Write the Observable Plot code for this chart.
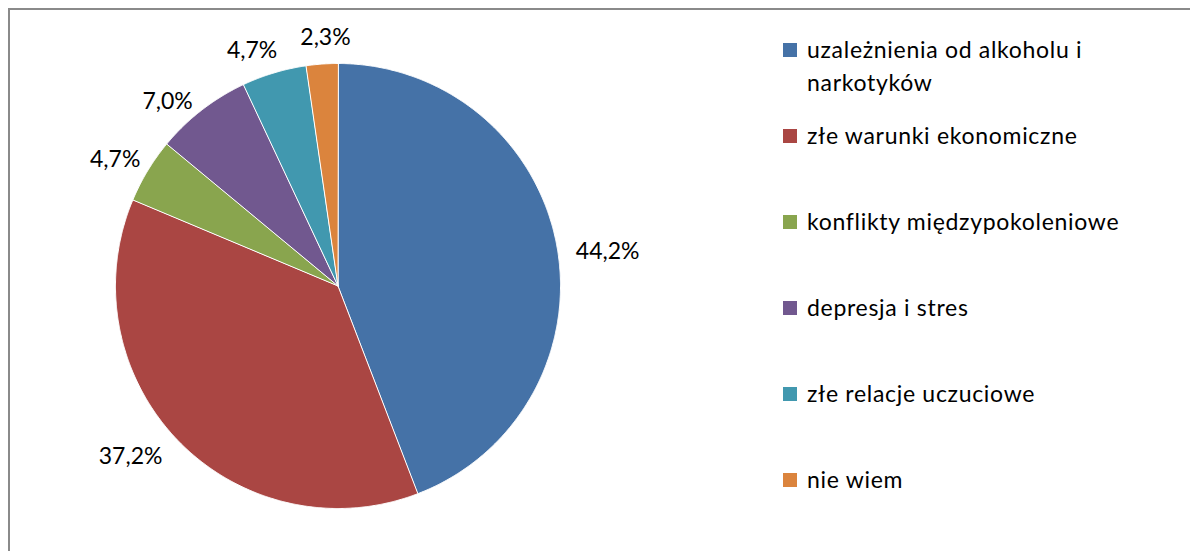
<!DOCTYPE html>
<html><head><meta charset="utf-8">
<script src="https://cdn.jsdelivr.net/npm/d3@7"></script>
<script src="https://cdn.jsdelivr.net/npm/@observablehq/plot@0.6"></script>
<style>
html,body{margin:0;padding:0;background:#fff;overflow:hidden;}
#wrap{position:relative;width:1190px;height:551px;font-family:Lato,"Noto Sans",sans-serif;color:#000;}
#frame{position:absolute;left:8px;top:8px;width:1200px;height:560px;border:2px solid #8a8a8a;box-sizing:border-box;}
#chart{position:absolute;left:0;top:0;}
#chart svg text{font-family:Lato,"Noto Sans",sans-serif;}
.sw{position:absolute;left:783px;width:14px;height:14px;}
.lt{position:absolute;left:807px;width:360px;font-size:23px;line-height:33px;letter-spacing:0.7px;white-space:normal;}
</style>
</head><body>
<div id="wrap"><div id="frame"></div><div id="chart"></div><div id="legend"></div></div>
<script>
const categories = ["uzależnienia od alkoholu i narkotyków","złe warunki ekonomiczne","konflikty międzypokoleniowe","depresja i stres","złe relacje uczuciowe","nie wiem"];
const values = [44.2, 37.2, 4.7, 7.0, 4.7, 2.3];
const valueLabels = ["44,2%","37,2%","4,7%","7,0%","4,7%","2,3%"];
const colors = ["#4572A7","#AA4643","#89A54E","#71588F","#4198AF","#DB843D"];

// layout
const cx = 337.5, cy = 285.5, r = 222.5;
const labelRadius = 257;
const labelNudge = [[17,13],[-23,-8],[-3,7],[-13,19],[-12,11],[6,8]];

const total = d3.sum(values);
let acc = 0;
const slices = values.map((v,i)=>{const a0=acc/total*2*Math.PI; acc+=v; const a1=acc/total*2*Math.PI; return {cat:categories[i],a0,a1,i};});
const pts = [];
slices.forEach(s=>{
  pts.push({cat:s.cat,x:0,y:0});
  const n = Math.max(2, Math.ceil((s.a1-s.a0)/0.005));
  for(let k=0;k<=n;k++){const a=s.a0+(s.a1-s.a0)*k/n; pts.push({cat:s.cat,x:Math.sin(a),y:Math.cos(a)});}
});
const labelData = slices.map(s=>{
  const m=(s.a0+s.a1)/2;
  const [nx,ny]=labelNudge[s.i];
  return {t:valueLabels[s.i], x:Math.sin(m)*labelRadius/r + nx/r, y:Math.cos(m)*labelRadius/r - ny/r};
});

const chart = Plot.plot({
  width:1190, height:551, margin:0,
  style:{background:"transparent", overflow:"visible", fontFamily:"Lato, 'Noto Sans', sans-serif"},
  x:{domain:[-1,1], range:[cx-r,cx+r], axis:null},
  y:{domain:[-1,1], range:[cy+r,cy-r], axis:null},
  color:{domain:categories, range:colors},
  marks:[
    Plot.line(pts,{x:"x",y:"y",z:"cat",fill:"cat",stroke:"#ffffff",strokeWidth:1,curve:"linear-closed"}),
    Plot.text(labelData,{x:"x",y:"y",text:"t",fontSize:23,fontFamily:"Lato",fill:"#000",textAnchor:"middle",lineAnchor:"middle"})
  ]
});
document.getElementById("chart").appendChild(chart);

const legendY = [50,136,222,308,394,480];
const leg = document.getElementById("legend");
categories.forEach((c,i)=>{
  const sw=document.createElement("div"); sw.className="sw"; sw.style.background=colors[i]; sw.style.top=(legendY[i]-7)+"px"; leg.appendChild(sw);
  const t=document.createElement("div"); t.className="lt"; t.textContent=c; t.style.top=(legendY[i]-17)+"px"; leg.appendChild(t);
});
</script>
</body></html>
